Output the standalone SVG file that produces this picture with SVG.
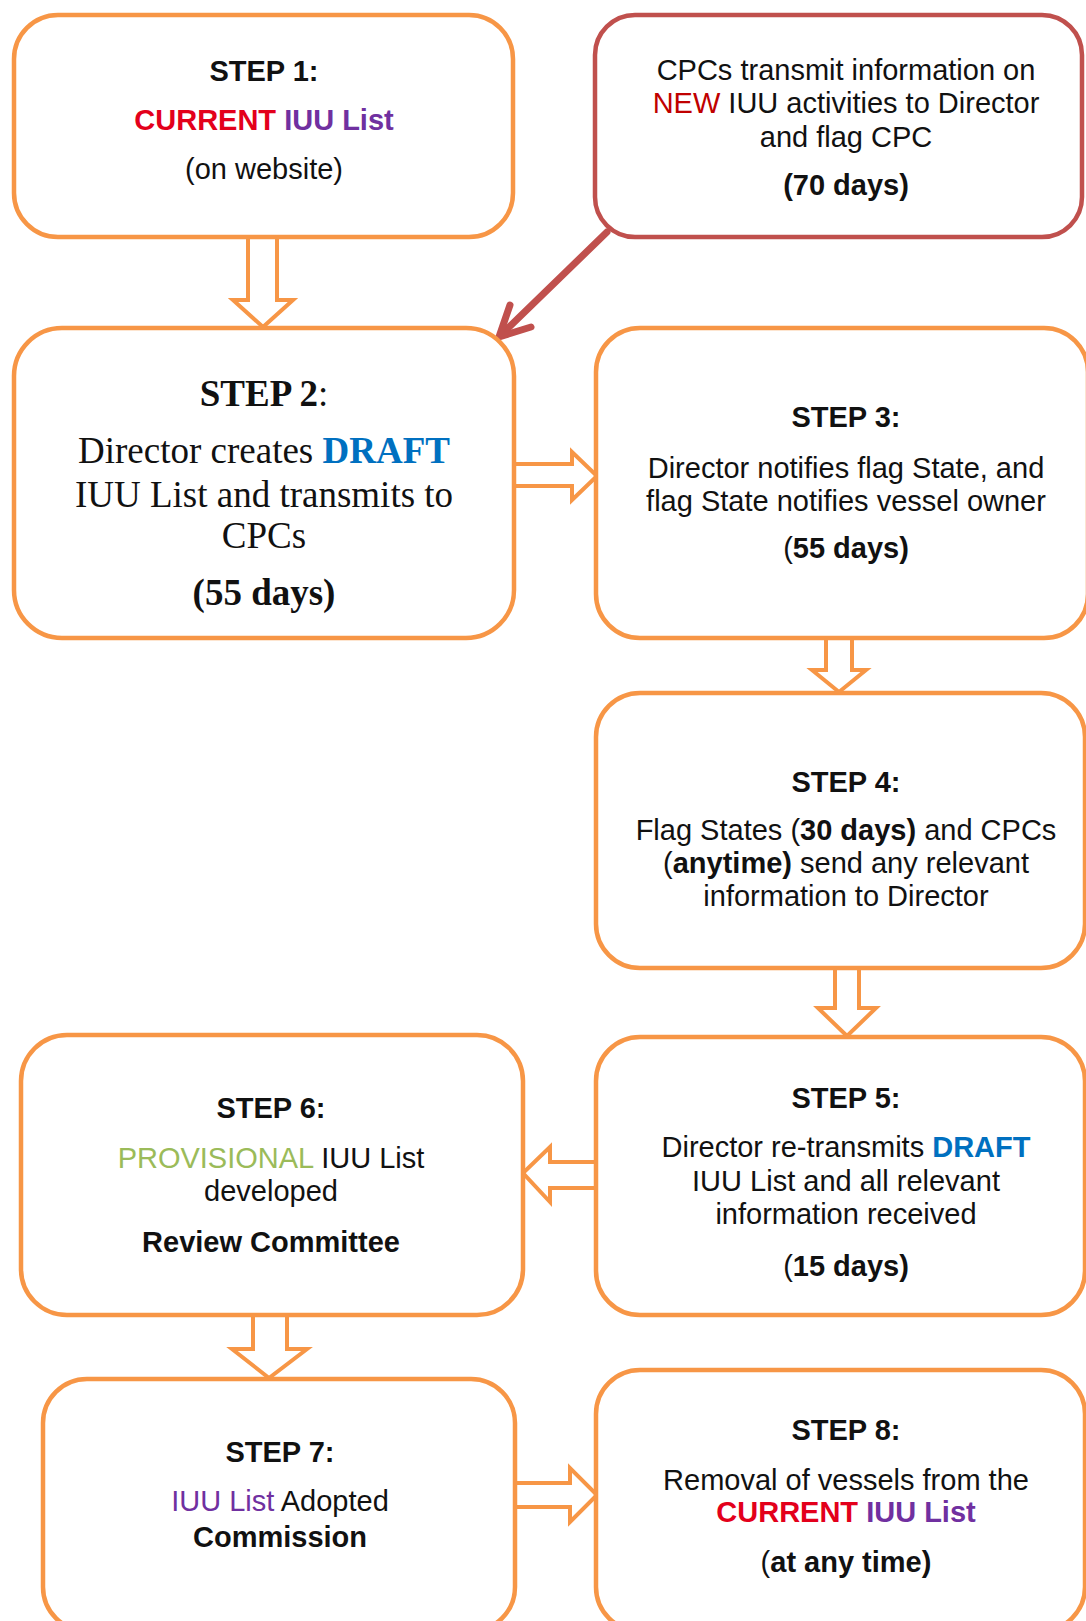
<svg xmlns="http://www.w3.org/2000/svg" width="1086" height="1621" viewBox="0 0 1086 1621">
<style>
.box{fill:#fff;stroke:#F79646;stroke-width:4.5}
.rbox{fill:#fff;stroke:#C0504D;stroke-width:4.5}
.blk{fill:#fff;stroke:#F79646;stroke-width:4;stroke-linejoin:miter}
.t{font-family:"Liberation Sans",Arial,sans-serif;font-size:29px;fill:#111;text-anchor:middle}
.tr{font-family:"Liberation Serif","Times New Roman",serif;font-size:37px;fill:#111;text-anchor:middle}
.b{font-weight:bold}
.red{fill:#E3001B}
.dred{fill:#C00000}
.pur{fill:#7030A0}
.blu{fill:#0070C0}
.grn{fill:#9BBB59}
</style>
<rect width="1086" height="1621" fill="#fff"/>
<g id="connectors">
<path class="blk" d="M248,238 L248,300 L233,300 L263,327 L293,300 L277,300 L277,238"/>
<path class="blk" d="M515,464 L572,464 L572,452 L597,476 L572,500 L572,486 L515,486"/>
<path class="blk" d="M826,638 L826,670 L812,670 L839,692 L866,670 L852,670 L852,638"/>
<path class="blk" d="M835,968 L835,1008 L818,1008 L847,1036 L876,1008 L859,1008 L859,968"/>
<path class="blk" d="M595,1162 L550,1162 L550,1147 L523,1173 L550,1202 L550,1188 L595,1188"/>
<path class="blk" d="M253,1315 L253,1349 L232,1349 L269,1378 L307,1349 L287,1349 L287,1315"/>
<path class="blk" d="M516,1483 L570,1483 L570,1468 L597,1495 L570,1522 L570,1507 L516,1507"/>
<g stroke="#C0504D" stroke-width="7" fill="none" stroke-linecap="round" stroke-linejoin="round">
<line x1="607" y1="232" x2="502" y2="334"/>
<polyline points="510,305 499,337 531,327"/>
</g>
</g>
<g id="step1">
<rect class="box" x="14" y="15" width="499" height="222" rx="44"/>
<text class="t b" x="264" y="81">STEP 1:</text>
<text class="t b" x="264" y="130"><tspan class="red">CURRENT</tspan> <tspan class="pur">IUU List</tspan></text>
<text class="t" x="264" y="179">(on website)</text>
</g>
<g id="new-activities">
<rect class="rbox" x="595" y="15" width="487" height="222" rx="40"/>
<text class="t" x="846" y="80">CPCs transmit information on</text>
<text class="t" x="846" y="113"><tspan class="dred">NEW</tspan> IUU activities to Director</text>
<text class="t" x="846" y="147">and flag CPC</text>
<text class="t b" x="846" y="195">(70 days)</text>
</g>
<g id="step2">
<rect class="box" x="14" y="328" width="500" height="310" rx="48"/>
<text class="tr" x="264" y="406"><tspan class="b">STEP 2</tspan>:</text>
<text class="tr" x="264" y="463">Director creates <tspan class="b blu">DRAFT</tspan></text>
<text class="tr" x="264" y="507">IUU List and transmits to</text>
<text class="tr" x="264" y="548">CPCs</text>
<text class="tr b" x="264" y="605">(55 days)</text>
</g>
<g id="step3">
<rect class="box" x="596" y="328" width="492" height="310" rx="44"/>
<text class="t b" x="846" y="427">STEP 3:</text>
<text class="t" x="846" y="478">Director notifies flag State, and</text>
<text class="t" x="846" y="511">flag State notifies vessel owner</text>
<text class="t" x="846" y="558">(<tspan class="b">55 days)</tspan></text>
</g>
<g id="step4">
<rect class="box" x="596" y="693" width="489" height="275" rx="44"/>
<text class="t b" x="846" y="792">STEP 4:</text>
<text class="t" x="846" y="840">Flag States (<tspan class="b">30 days)</tspan> and CPCs</text>
<text class="t" x="846" y="873">(<tspan class="b">anytime)</tspan> send any relevant</text>
<text class="t" x="846" y="906">information to Director</text>
</g>
<g id="step5">
<rect class="box" x="596" y="1037" width="489" height="278" rx="44"/>
<text class="t b" x="846" y="1108">STEP 5:</text>
<text class="t" x="846" y="1157">Director re-transmits <tspan class="b blu">DRAFT</tspan></text>
<text class="t" x="846" y="1191">IUU List and all relevant</text>
<text class="t" x="846" y="1224">information received</text>
<text class="t" x="846" y="1276">(<tspan class="b">15 days)</tspan></text>
</g>
<g id="step6">
<rect class="box" x="21" y="1035" width="502" height="280" rx="46"/>
<text class="t b" x="271" y="1118">STEP 6:</text>
<text class="t" x="271" y="1168"><tspan class="grn">PROVISIONAL</tspan> IUU List</text>
<text class="t" x="271" y="1201">developed</text>
<text class="t b" x="271" y="1252">Review Committee</text>
</g>
<g id="step7">
<rect class="box" x="43" y="1379" width="472" height="252" rx="44"/>
<text class="t b" x="280" y="1462">STEP 7:</text>
<text class="t" x="280" y="1511"><tspan class="pur">IUU List</tspan> Adopted</text>
<text class="t b" x="280" y="1547" font-size="32">Commission</text>
</g>
<g id="step8">
<rect class="box" x="596" y="1370" width="489" height="261" rx="44"/>
<text class="t b" x="846" y="1440">STEP 8:</text>
<text class="t" x="846" y="1490">Removal of vessels from the</text>
<text class="t b" x="846" y="1522"><tspan class="red">CURRENT</tspan> <tspan class="pur">IUU List</tspan></text>
<text class="t" x="846" y="1572">(<tspan class="b">at any time)</tspan></text>
</g>
</svg>
